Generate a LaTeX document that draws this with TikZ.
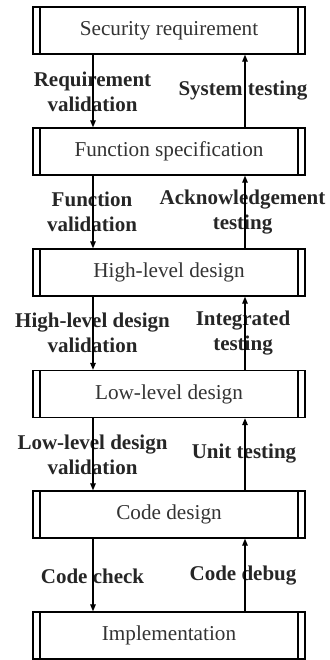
\documentclass[tikz,border=0pt]{standalone}
\usepackage{fontspec}
\setmainfont{Liberation Serif}
\usetikzlibrary{arrows.meta}
\begin{document}
\begin{tikzpicture}[x=1pt,y=-1pt,
  procbox/.style={draw, line width=1.3pt, minimum width=272pt, minimum height=47pt,
    inner sep=0pt, font=\fontsize{21.2}{25}\selectfont, text=black!80,
    path picture={\draw[line width=1.1pt]
      ([xshift=7pt]path picture bounding box.north west) -- ([xshift=7pt]path picture bounding box.south west)
      ([xshift=-7pt]path picture bounding box.north east) -- ([xshift=-7pt]path picture bounding box.south east);}},
  steplabel/.style={font=\bfseries\fontsize{21}{25}\selectfont, align=center, inner sep=0pt, text=black!85},
  arr/.style={line width=1.2pt, -{Triangle[length=7pt,width=5.5pt]}}]
\useasboundingbox (0,0) rectangle (329,660);
\coordinate (L) at (93,0);
\coordinate (R) at (245,0);
% process stages
\node[procbox] (b1) at (169,30.5) {Security requirement};
\node[procbox] (b2) at (169,151.5) {Function specification};
\node[procbox] (b3) at (169,272.5) {High-level design};
\node[procbox] (b4) at (169,394) {Low-level design};
\node[procbox] (b5) at (169,514.5) {Code design};
\node[procbox] (b6) at (169,635.5) {Implementation};
% labels of the transitions
\node[steplabel] (l1) at (92.5,92) {Requirement\\validation};
\node[steplabel] (r1) at (243,91) {System testing};
\node[steplabel] (l2) at (92,212) {Function\\validation};
\node[steplabel] (r2) at (242.5,212) {Acknowledgement\\testing};
\node[steplabel] (l3) at (92.5,333) {High-level design\\validation};
\node[steplabel] (r3) at (243,333) {Integrated\\testing};
\node[steplabel] (l4) at (92.5,455) {Low-level design\\validation};
\node[steplabel] (r4) at (244,454) {Unit testing};
\node[steplabel] (l5) at (92.5,576) {Code check};
\node[steplabel] (r5) at (243,576) {Code debug};
% downward validation arrows
\draw[arr] (b1.south -| L) -- (b2.north -| L);
\draw[arr] (b2.south -| L) -- (b3.north -| L);
\draw[arr] (b3.south -| L) -- (b4.north -| L);
\draw[arr] (b4.south -| L) -- (b5.north -| L);
\draw[arr] (b5.south -| L) -- (b6.north -| L);
% upward testing arrows
\draw[arr] (b2.north -| R) -- (b1.south -| R);
\draw[arr] (b3.north -| R) -- (b2.south -| R);
\draw[arr] (b4.north -| R) -- (b3.south -| R);
\draw[arr] (b5.north -| R) -- (b4.south -| R);
\draw[arr] (b6.north -| R) -- (b5.south -| R);
\end{tikzpicture}
\end{document}
